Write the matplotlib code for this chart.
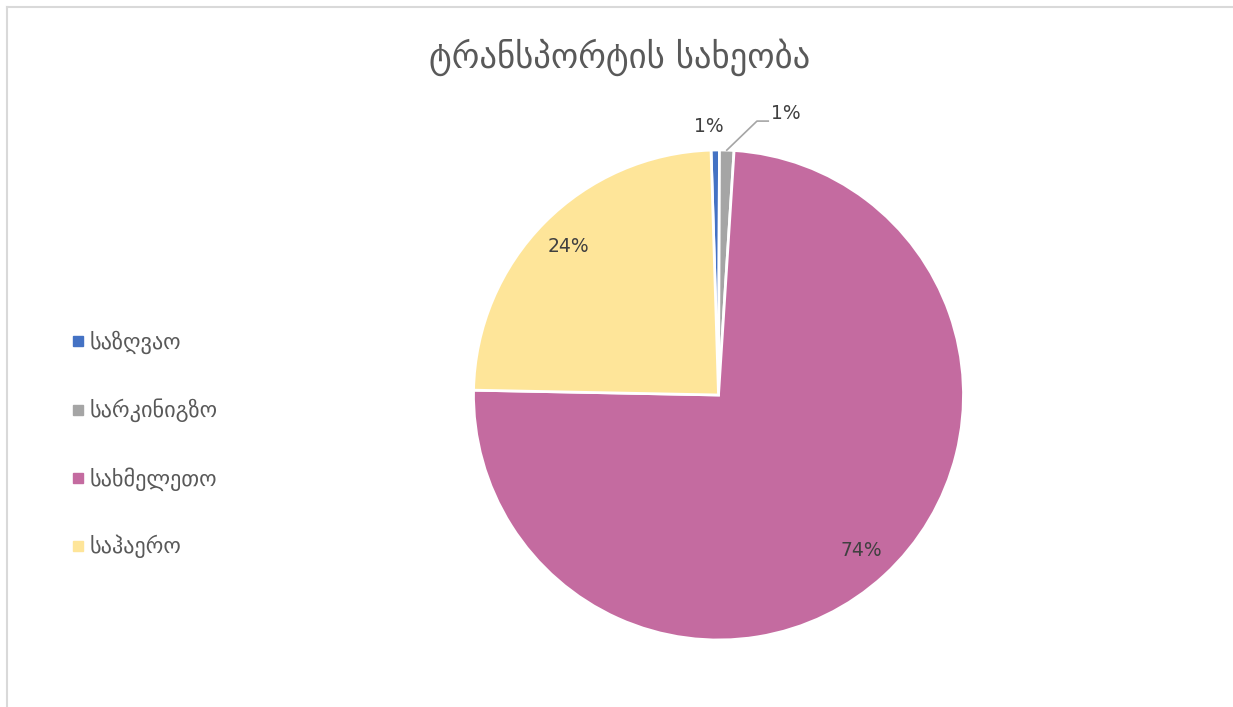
import matplotlib
matplotlib.use("Agg")
import matplotlib.pyplot as plt
import numpy as np
from matplotlib.lines import Line2D

plt.rcParams['font.family'] = ['DejaVu Sans']

# Transport usage shares
title = "ტრანსპორტის სახეობა"
categories = ["საზღვაო", "სარკინიგზო", "სახმელეთო", "საჰაერო"]
shares = [0.55, 0.95, 74.3, 24.2]
colors = ["#4472C4", "#A5A5A5", "#C46BA0", "#FEE599"]

W, H = 1233, 707
fig = plt.figure(figsize=(W / 100, H / 100), dpi=100)
fig.patch.set_facecolor("white")

# chart frame (top and left edges visible)
fig.add_artist(Line2D([7 / W, 7 / W], [0, 1 - 7 / H], transform=fig.transFigure,
                      color="#D9D9D9", lw=1.5))
fig.add_artist(Line2D([7 / W, 1], [1 - 7 / H, 1 - 7 / H], transform=fig.transFigure,
                      color="#D9D9D9", lw=1.5))

fig.text(620 / W, 1 - 57 / H, title, ha="center", va="center",
         fontsize=25, color="#595959")

cx, cy, r = 718.5, 395, 245
ax = fig.add_axes([(cx - r) / W, (H - cy - r) / H, 2 * r / W, 2 * r / H])

wedges, texts, autotexts = ax.pie(
    shares, colors=colors, startangle=91.75, counterclock=False,
    autopct=lambda p: f"{p:.0f}%", pctdistance=0.86, radius=1,
    wedgeprops=dict(edgecolor="white", linewidth=2),
    textprops=dict(fontsize=13.5, color="#404040"))
ax.set_xlim(-1, 1)
ax.set_ylim(-1, 1)
ax.set_aspect("auto")

# small slices: labels outside the pie
autotexts[0].set_position((-0.04, 1.095))
autotexts[1].set_position((0.275, 1.15))
w = wedges[1]
mid = np.deg2rad((w.theta1 + w.theta2) / 2)
x0, y0 = np.cos(mid), np.sin(mid)
ax.plot([x0, 0.157, 0.203], [y0, 1.118, 1.118], color="#A5A5A5", lw=1.2,
        clip_on=False)

handles = [Line2D([], [], marker="s", linestyle="none", markersize=7,
                  markerfacecolor=c, markeredgecolor=c) for c in colors]
fig.legend(handles, categories, loc="upper left",
           bbox_to_anchor=(62 / W, 1 - 322 / H), frameon=False,
           fontsize=16, labelcolor="#595959", handlelength=0.6,
           handletextpad=0.25, labelspacing=2.0, borderaxespad=0)

fig.savefig("out.png", dpi=100, facecolor="white")
